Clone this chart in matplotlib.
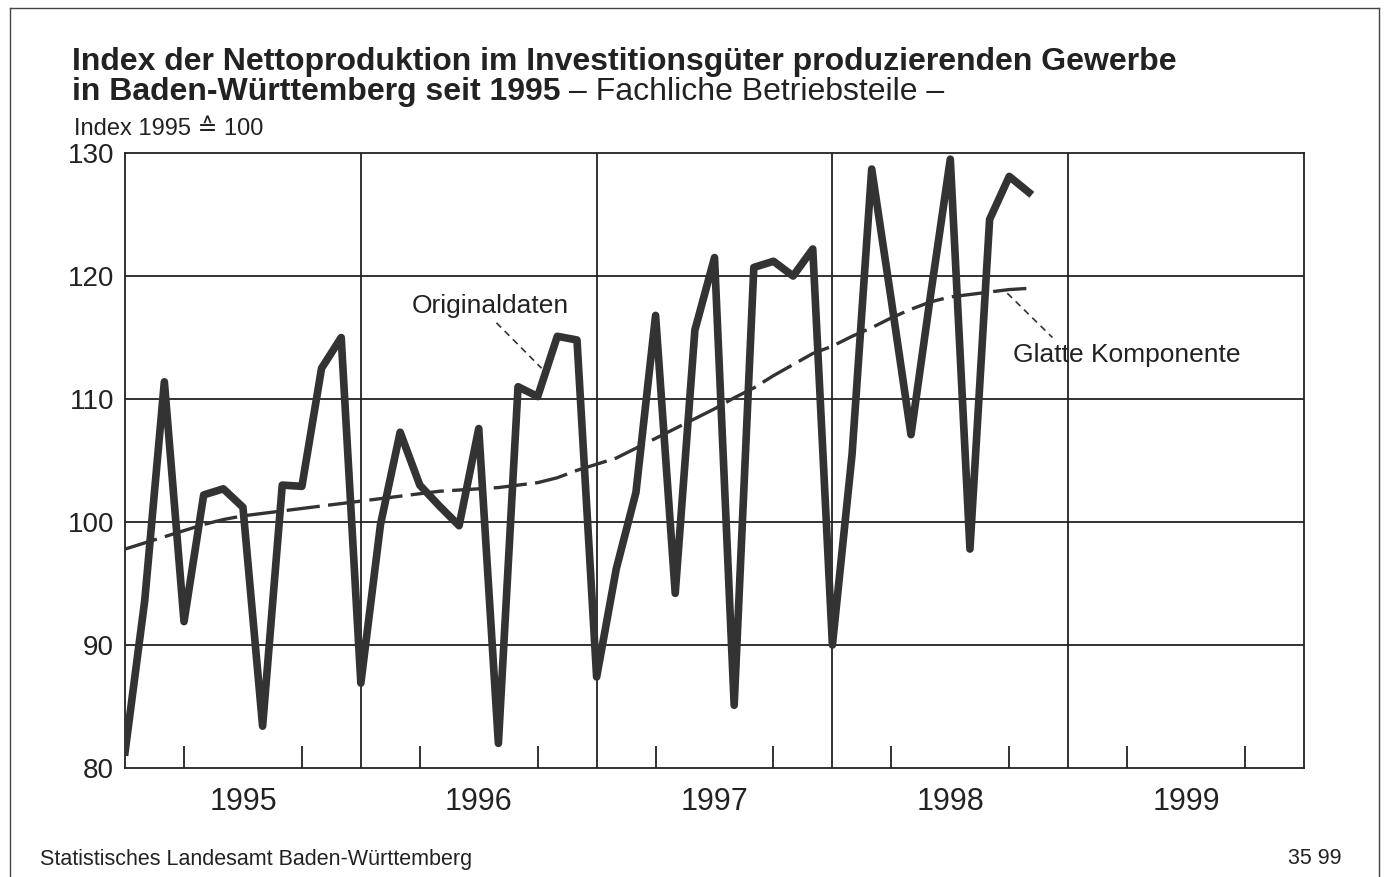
import numpy as np
import matplotlib
matplotlib.use("Agg")
import matplotlib.pyplot as plt
from matplotlib.lines import Line2D

plt.rcParams['font.family'] = ['Liberation Sans', 'DejaVu Sans']

# monthly values from January 1995 (month 0) to November 1998
original = [81.3, 93.6, 111.4, 91.9, 102.2, 102.7, 101.2, 83.4, 103.0, 102.9, 112.5, 115.0,
            86.9, 99.8, 107.3, 103.0, 101.3, 99.7, 107.6, 82.0, 111.0, 110.2, 115.1, 114.8,
            87.4, 96.2, 102.4, 116.8, 94.2, 115.6, 121.5, 85.1, 120.7, 121.2, 120.0, 122.2,
            90.0, 105.5, 128.7, 118.0, 107.1, 118.5, 129.5, 97.8, 124.6, 128.1, 126.8]
smooth = [97.8, 98.3, 98.8, 99.3, 99.8, 100.2, 100.5, 100.7, 100.9, 101.1, 101.3, 101.5,
          101.7, 101.9, 102.1, 102.3, 102.5, 102.6, 102.7, 102.8, 103.0, 103.2, 103.6, 104.2,
          104.7, 105.2, 106.0, 106.8, 107.6, 108.4, 109.2, 110.1, 110.9, 111.9, 112.8, 113.7,
          114.3, 115.1, 115.8, 116.6, 117.3, 117.9, 118.3, 118.5, 118.7, 118.9, 119.0]
years = ['1995', '1996', '1997', '1998', '1999']
y_ticks = [80, 90, 100, 110, 120, 130]

months = np.arange(len(original))

fig = plt.figure(figsize=(13.85, 8.77), dpi=100)
ax = fig.add_axes([0.0903, 0.1243, 0.8512, 0.7012])

ink = '#333333'
ax.plot(np.arange(len(smooth)), smooth, color=ink, lw=2.4, dashes=(10, 2.5), zorder=3)
ax.plot(months, original, color=ink, lw=5.5, solid_joinstyle='round', zorder=4)

ax.set_xlim(0, 12 * len(years))
ax.set_ylim(80, 130)

# grid: horizontal at y ticks, vertical at year boundaries
for v in y_ticks[1:-1]:
    ax.axhline(v, color='#222222', lw=1.3, zorder=1)
for i in range(1, len(years)):
    ax.axvline(12 * i, color='#222222', lw=1.3, zorder=1)

ax.set_yticks(y_ticks)
ax.set_yticklabels([str(v) for v in y_ticks], fontsize=20, color='#222222')
ax.tick_params(axis='y', length=0, pad=8)

# quarter ticks inside from the bottom
quarters = [q for q in range(3, 12 * len(years), 3) if q % 12 != 0]
ax.set_xticks(quarters, minor=True)
ax.set_xticks([12 * i + 6 for i in range(len(years))])
ax.set_xticklabels(years, fontsize=22, color='#222222')
ax.tick_params(axis='x', which='major', length=0, pad=14)
ax.tick_params(axis='x', which='minor', direction='in', length=16, width=1.3, color='#222222')

for s in ax.spines.values():
    s.set_color('#222222')
    s.set_linewidth(1.3)

# annotations
ax.text(18.6, 117.6, 'Originaldaten', fontsize=19, color='#222222', ha='center', va='center')
ax.plot([18.9, 21.2], [116.2, 112.5], color=ink, lw=1.2, dashes=(4, 3), zorder=5)
ax.text(45.2, 113.6, 'Glatte Komponente', fontsize=19, color='#222222', ha='left', va='center')
ax.plot([44.9, 47.2], [118.6, 115.0], color=ink, lw=1.2, dashes=(4, 3), zorder=5)

# titles
fig.text(72 / 1385, 1 - 62 / 877, 'Index der Nettoproduktion im Investitionsgüter produzierenden Gewerbe',
         fontsize=23, fontweight='bold', color='#222222', va='center')
line2 = fig.text(72 / 1385, 1 - 92 / 877, 'in Baden-Württemberg seit 1995', fontsize=23,
                 fontweight='bold', color='#222222', va='center')
fig.canvas.draw()
bb = line2.get_window_extent()
fig.text(bb.x1 / 1385 + 0.006, 1 - 92 / 877, '– Fachliche Betriebsteile –', fontsize=23,
         color='#222222', va='center')
fig.text(74 / 1385, 1 - 129 / 877, 'Index 1995 ≙ 100', fontsize=17, color='#222222', va='center')

fig.text(40 / 1385, 1 - 859 / 877, 'Statistisches Landesamt Baden-Württemberg', fontsize=15.5,
         color='#222222', va='center')
fig.text(1341 / 1385, 1 - 859 / 877, '35 99', fontsize=15.5, color='#222222', va='center', ha='right')

# outer frame
fx0, fx1, fy1 = 10 / 1385, 1379 / 1385, 1 - 8 / 877
for xs, ys in [([fx0, fx0], [0, fy1]), ([fx1, fx1], [0, fy1]), ([fx0, fx1], [fy1, fy1])]:
    fig.add_artist(Line2D(xs, ys, color='#444444', lw=1.0, transform=fig.transFigure))

fig.savefig('out.png', dpi=100)
